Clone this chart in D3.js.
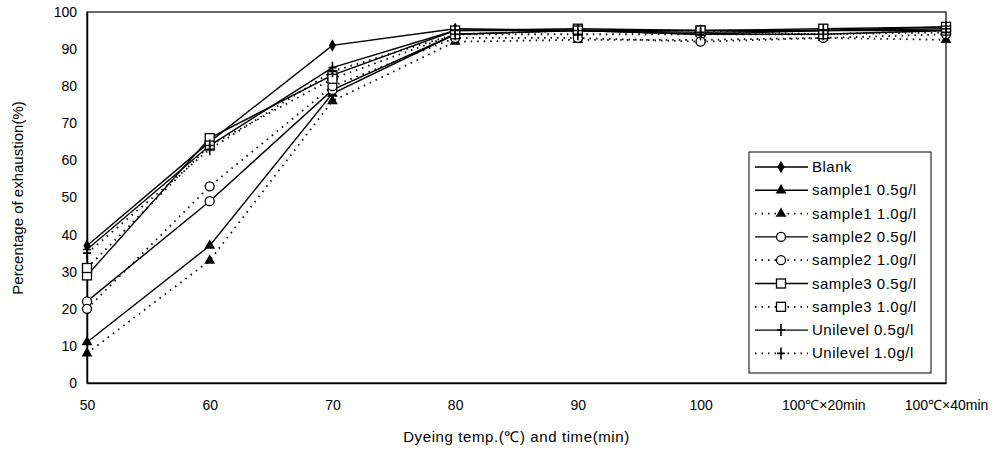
<!DOCTYPE html>
<html>
<head>
<meta charset="utf-8">
<script src="https://cdnjs.cloudflare.com/ajax/libs/d3/7.8.5/d3.min.js"></script>
<style>
  body { margin: 0; background: #fff; }
  text { font-family: "Liberation Sans", Arial, sans-serif; fill: #000; }
</style>
</head>
<body>
<div class="box"></div>
<script>
// données
const categories = ['50', '60', '70', '80', '90', '100', '100℃×20min', '100℃×40min'];
const yTicks = [0, 10, 20, 30, 40, 50, 60, 70, 80, 90, 100];

const blank      = [37, 65, 91, 95.5, 95, 95, 95, 96];
const s1_05      = [11, 37, 78, 94, 95, 94, 95, 95];
const s1_10      = [8, 33, 76, 92, 92.5, 92.5, 93, 92.5];
const s2_05      = [22, 49, 79, 94, 95, 94, 94, 95];
const s2_10      = [20, 53, 80, 93, 93, 92, 93, 94];
const s3_05      = [29, 66, 83, 95, 95.5, 95, 95.5, 96];
const s3_10      = [31, 64, 82, 94, 95, 95, 94, 95];
const uni_05     = [36, 64, 85, 95, 95, 94.5, 95, 95.5];
const uni_10     = [35, 63, 84, 94, 94, 94, 94, 94.5];

const seriesNames = ['Blank', 'sample1 0.5g/l', 'sample1 1.0g/l', 'sample2 0.5g/l', 'sample2 1.0g/l',
                     'sample3 0.5g/l', 'sample3 1.0g/l', 'Unilevel 0.5g/l', 'Unilevel 1.0g/l'];
const seriesValues = [blank, s1_05, s1_10, s2_05, s2_10, s3_05, s3_10, uni_05, uni_10];
const seriesMarker = ['diamond', 'triangle', 'triangle', 'circle', 'circle', 'square', 'square', 'plus', 'plus'];
const seriesDotted = [false, false, true, false, true, false, true, false, true];

const series = seriesNames.map((nom, i) => ({
    nom, valeurs: seriesValues[i], marker: seriesMarker[i], dotted: seriesDotted[i]
}));

// mise en place
const dims = {width: 995, height: 452, left: 87, right: 946, top: 12, bottom: 383};

const svg = d3.select('.box')
              .append('svg')
              .attr('width', dims.width)
              .attr('height', dims.height);

const x = d3.scalePoint().domain(categories).range([dims.left, dims.right]);
const y = d3.scaleLinear().domain([0, 100]).range([dims.bottom, dims.top]);

// cadre
svg.append('rect')
   .attr('x', dims.left).attr('y', dims.top)
   .attr('width', dims.right - dims.left).attr('height', dims.bottom - dims.top)
   .attr('fill', 'none').attr('stroke', '#000').attr('stroke-width', 1.2);

// axes
const yAxis = d3.axisLeft(y).tickValues(yTicks).tickSize(0).tickPadding(10);
svg.append('g')
   .attr('transform', `translate(${dims.left},0)`)
   .call(yAxis)
   .call(g => g.select('.domain').attr('stroke-width', 1.5))
   .selectAll('text').attr('font-size', 14);

const xAxis = d3.axisBottom(x).tickSize(0).tickPadding(17);
svg.append('g')
   .attr('transform', `translate(0,${dims.bottom})`)
   .call(xAxis)
   .call(g => g.select('.domain').attr('stroke-width', 1.5))
   .selectAll('text').attr('font-size', 14);

// titres des axes
svg.append('text')
   .attr('transform', `translate(23, 198) rotate(-90)`)
   .attr('text-anchor', 'middle')
   .attr('font-size', 15)
   .text('Percentage of exhaustion(%)');

svg.append('text')
   .attr('x', (dims.left + dims.right) / 2)
   .attr('y', 442)
   .attr('text-anchor', 'middle')
   .attr('font-size', 15)
   .attr('letter-spacing', 0.6)
   .text('Dyeing temp.(℃) and time(min)');

// marqueurs
const drawMarker = (g, type, cx, cy) => {
    if (type === 'diamond') {
        g.append('path').attr('d', d3.symbol(d3.symbolDiamond, 45)())
         .attr('transform', `translate(${cx},${cy})`).attr('fill', '#000');
    } else if (type === 'triangle') {
        g.append('path').attr('d', d3.symbol(d3.symbolTriangle, 50)())
         .attr('transform', `translate(${cx},${cy})`).attr('fill', '#000');
    } else if (type === 'circle') {
        g.append('circle').attr('cx', cx).attr('cy', cy).attr('r', 4.5)
         .attr('fill', '#fff').attr('stroke', '#000').attr('stroke-width', 1.3);
    } else if (type === 'square') {
        g.append('rect').attr('x', cx - 4.5).attr('y', cy - 4.5).attr('width', 9).attr('height', 9)
         .attr('fill', '#fff').attr('stroke', '#000').attr('stroke-width', 1.3);
    } else if (type === 'plus') {
        g.append('path').attr('d', `M${cx},${cy - 6}V${cy + 6}M${cx - 4},${cy}H${cx + 4}`)
         .attr('stroke', '#000').attr('stroke-width', 1.6);
    }
};

const line = d3.line()
               .x((d, i) => x(categories[i]))
               .y(d => y(d));

const graph = svg.append('g');

series.forEach(s => {
    graph.append('path')
         .datum(s.valeurs)
         .attr('d', line)
         .attr('fill', 'none')
         .attr('stroke', '#000')
         .attr('stroke-width', s.dotted ? 1.8 : 1.4)
         .attr('stroke-dasharray', s.dotted ? '1.5,5' : null);
});

series.forEach(s => {
    const g = graph.append('g');
    s.valeurs.forEach((v, i) => drawMarker(g, s.marker, x(categories[i]), y(v)));
});

// legende
const leg = {x: 749, y: 152, w: 182, h: 221, row: 23.3};
const groupeLegendes = svg.append('g');

groupeLegendes.append('rect')
   .attr('x', leg.x).attr('y', leg.y).attr('width', leg.w).attr('height', leg.h)
   .attr('fill', '#fff').attr('stroke', '#000').attr('stroke-width', 1);

series.forEach((s, i) => {
    const yy = leg.y + 15 + i * leg.row;
    groupeLegendes.append('line')
       .attr('x1', leg.x + 6).attr('x2', leg.x + 59)
       .attr('y1', yy).attr('y2', yy)
       .attr('stroke', '#000')
       .attr('stroke-width', s.dotted ? 1.8 : 1.4)
       .attr('stroke-dasharray', s.dotted ? '1.5,5' : null);
    drawMarker(groupeLegendes, s.marker, leg.x + 32, yy);
    groupeLegendes.append('text')
       .attr('x', leg.x + 63).attr('y', yy + 5)
       .attr('font-size', 15)
       .attr('letter-spacing', 0.5)
       .text(s.nom);
});
</script>
</body>
</html>
